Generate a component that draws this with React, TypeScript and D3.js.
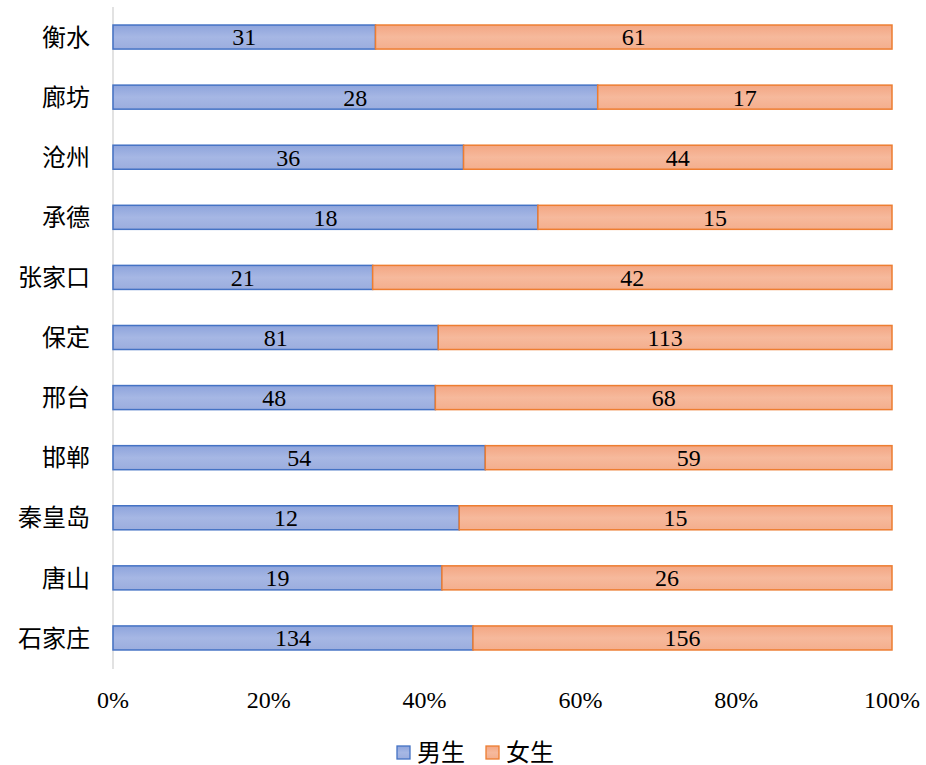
import * as d3 from 'd3';

const cities = ['衡水', '廊坊', '沧州', '承德', '张家口', '保定', '邢台', '邯郸', '秦皇岛', '唐山', '石家庄'];
const boys = [31, 28, 36, 18, 21, 81, 48, 54, 12, 19, 134];
const girls = [61, 17, 44, 15, 42, 113, 68, 59, 15, 26, 156];
const ticks = [0, 0.2, 0.4, 0.6, 0.8, 1];
const seriesNames = ['男生', '女生'];

const W = 926;
const H = 765;
const margin = { top: 7, right: 34, bottom: 97, left: 113 };

const serif = '"Liberation Serif", "Times New Roman", "Noto Sans CJK SC", serif';

export default function App() {
  const x = d3.scaleLinear().domain([0, 1]).range([margin.left, W - margin.right]);
  const y = d3.scaleBand<string>()
    .domain(cities)
    .range([margin.top, H - margin.bottom])
    .paddingInner(0.6)
    .paddingOuter(0.3);

  const rows = cities.map((c, i) => {
    const total = boys[i] + girls[i];
    return { city: c, b: boys[i], g: girls[i], bShare: boys[i] / total };
  });

  const bh = y.bandwidth();

  return (
    <svg width={W} height={H} style={{ position: 'absolute', left: 0, top: 0 }}>
      <defs>
        <linearGradient id="gBlue" x1="0" y1="0" x2="0" y2="1">
          <stop offset="0" stopColor="#8ea4dc" />
          <stop offset="0.5" stopColor="#a6b7e4" />
          <stop offset="1" stopColor="#9badde" />
        </linearGradient>
        <linearGradient id="gOrange" x1="0" y1="0" x2="0" y2="1">
          <stop offset="0" stopColor="#f3a683" />
          <stop offset="0.5" stopColor="#f6b99c" />
          <stop offset="1" stopColor="#f4ae8d" />
        </linearGradient>
      </defs>
      <rect width={W} height={H} fill="#fff" />
      <line x1={margin.left} x2={margin.left} y1={margin.top} y2={H - margin.bottom + 1} stroke="#d9d9d9" strokeWidth={1.5} />
      {rows.map(r => {
        const yy = y(r.city)!;
        const x0 = x(0);
        const x1 = x(r.bShare);
        const x2 = x(1);
        return (
          <g key={r.city}>
            <rect x={x0} y={yy} width={x1 - x0} height={bh} fill="url(#gBlue)" stroke="#4472c4" strokeWidth={1.5} />
            <rect x={x1} y={yy} width={x2 - x1} height={bh} fill="url(#gOrange)" stroke="#ed7d31" strokeWidth={1.5} />
            <text x={(x0 + x1) / 2} y={yy + bh / 2} dy="0.35em" textAnchor="middle" fontFamily={serif} fontSize={24} fill="#000">{r.b}</text>
            <text x={(x1 + x2) / 2} y={yy + bh / 2} dy="0.35em" textAnchor="middle" fontFamily={serif} fontSize={24} fill="#000">{r.g}</text>
            <text x={margin.left - 23} y={yy + bh / 2} dy="0.36em" textAnchor="end" fontFamily={serif} fontSize={24} fill="#000">{r.city}</text>
          </g>
        );
      })}
      {ticks.map(t => (
        <text key={t} x={x(t)} y={700} dy="0.35em" textAnchor="middle" fontFamily={serif} fontSize={24} fill="#000">
          {d3.format('.0%')(t)}
        </text>
      ))}
      <g fontFamily={serif} fontSize={24} fill="#000">
        <rect x={397} y={746} width={13} height={13} fill="url(#gBlue)" stroke="#4472c4" strokeWidth={1.3} />
        <text x={417} y={752} dy="0.36em">{seriesNames[0]}</text>
        <rect x={486} y={746} width={13} height={13} fill="url(#gOrange)" stroke="#ed7d31" strokeWidth={1.3} />
        <text x={506} y={752} dy="0.36em">{seriesNames[1]}</text>
      </g>
    </svg>
  );
}
